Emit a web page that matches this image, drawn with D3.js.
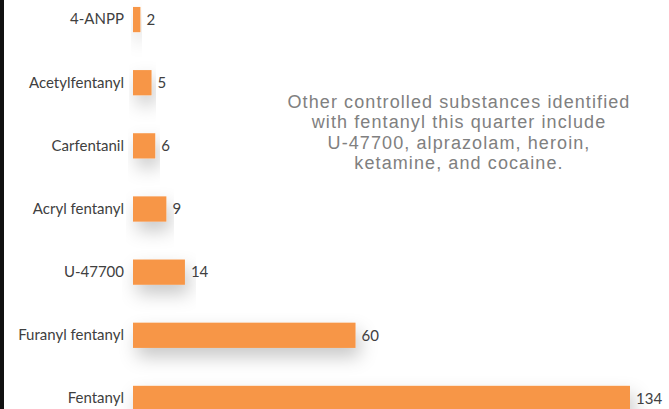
<!DOCTYPE html>
<html>
<head>
<meta charset="utf-8">
<script src="https://cdn.jsdelivr.net/npm/d3@7"></script>
<style>
  body { margin: 0; background: #fff; }
  svg { display: block; }
</style>
</head>
<body>
<svg id="graph" width="669" height="409"></svg>
<script>
const categories = ["4-ANPP", "Acetylfentanyl", "Carfentanil", "Acryl fentanyl", "U-47700", "Furanyl fentanyl", "Fentanyl"];
const counts = [2, 5, 6, 9, 14, 60, 134];
const note = [
  "Other controlled substances identified",
  "with fentanyl this quarter include",
  "U-47700, alprazolam, heroin,",
  "ketamine, and cocaine."
];

const width = 669, height = 409;
const svg = d3.select("#graph").attr("viewBox", [0, 0, width, height]);

const x = d3.scaleLinear().domain([0, 134]).range([133, 630]);
const y = d3.scaleBand().domain(categories).range([-12, 430]).paddingInner(0.6).paddingOuter(0.3);

const defs = svg.append("defs");
const f = defs.append("filter").attr("id", "sh").attr("x", "-20%").attr("y", "-80%").attr("width", "140%").attr("height", "300%");
f.append("feDropShadow").attr("dx", 4).attr("dy", 9).attr("stdDeviation", 9).attr("flood-color", "#000").attr("flood-opacity", 0.22);

// left black edge
svg.append("rect").attr("x", 0).attr("y", 0).attr("width", 4).attr("height", height).attr("fill", "#111");

svg.append("g")
  .selectAll("rect")
  .data(counts)
  .join("rect")
  .attr("fill", "#f79646")
  .attr("filter", "url(#sh)")
  .attr("x", x(0))
  .attr("y", (d, i) => y(categories[i]))
  .attr("height", y.bandwidth())
  .attr("width", (d) => x(d) - x(0));

svg.append("g")
  .selectAll("text")
  .data(counts)
  .join("text")
  .attr("x", (d) => x(d) + 6)
  .attr("y", (d, i) => y(categories[i]) + y.bandwidth() / 2)
  .attr("dy", "0.35em")
  .attr("font-family", "Lato, sans-serif")
  .attr("font-size", 15)
  .attr("fill", "#404040")
  .text((d) => d);

svg.append("g")
  .attr("transform", `translate(${x(0) - 9},0)`)
  .call(d3.axisLeft(y).tickSize(0).tickPadding(0))
  .call((g) => g.select(".domain").remove())
  .call((g) => g.selectAll("text")
    .attr("font-family", "Lato, sans-serif")
    .attr("font-size", 15)
    .attr("fill", "#404040"));

// note, one text per line
svg.append("g")
  .selectAll("text")
  .data(note)
  .join("text")
  .attr("x", 459)
  .attr("y", (d, i) => 108 + i * 20.3)
  .attr("text-anchor", "middle")
  .attr("font-family", "'Liberation Sans', Arial, sans-serif")
  .attr("font-size", 18)
  .attr("letter-spacing", 1.1)
  .attr("fill", "#808080")
  .text((d) => d);
</script>
</body>
</html>
